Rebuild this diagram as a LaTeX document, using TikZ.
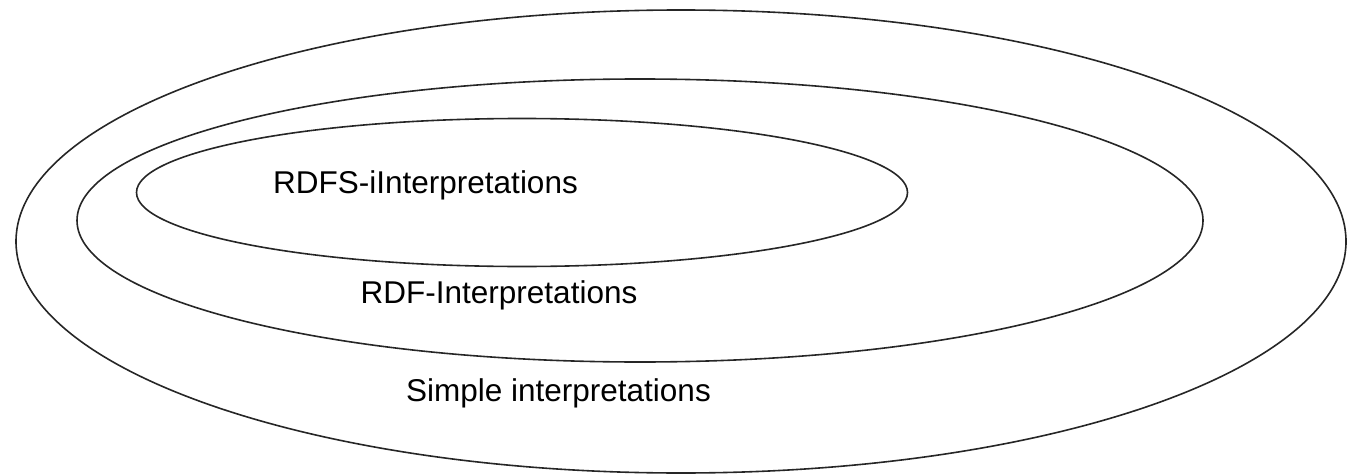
\documentclass[tikz,border=0pt]{standalone}
\usepackage{fontspec}
\setmainfont{Liberation Sans}
\begin{document}
\begin{tikzpicture}[x=1pt,y=-1pt,
  setline/.style={draw=black!85,line width=1.6pt},
  setlabel/.style={font=\fontsize{31.5}{36}\selectfont,inner sep=0pt,anchor=base}]
\useasboundingbox (0,0) rectangle (1348,476);
% nested interpretation sets
\draw[setline] (681,241.5) ellipse [x radius=665, y radius=231.5];
\draw[setline] (640,220.5) ellipse [x radius=563, y radius=141.5];
\draw[setline] (522,192.5) ellipse [x radius=385.5, y radius=74];
\node[setlabel] (rdfs) at (425.5,193) {RDFS-iInterpretations};
\node[setlabel] (rdf) at (499,303) {RDF-Interpretations};
\node[setlabel] (simple) at (558.5,401) {Simple interpretations};
\end{tikzpicture}
\end{document}
